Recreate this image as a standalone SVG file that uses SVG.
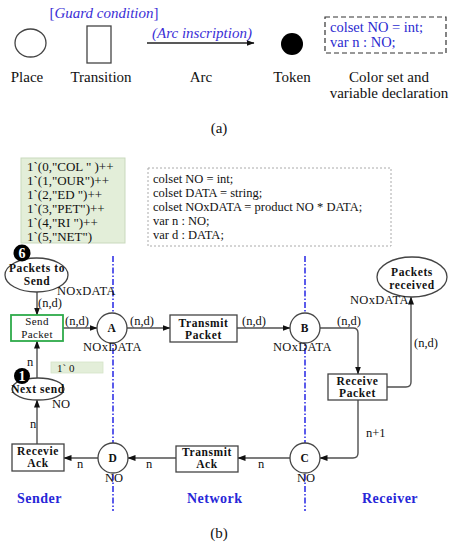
<svg xmlns="http://www.w3.org/2000/svg" width="456" height="550" viewBox="0 0 456 550">
<style>
  text { font-family: "Liberation Serif", "Times New Roman", serif; fill: #111; }
  .lbl { font-size: 15px; text-anchor: middle; }
  .blue { fill: #3b2fd6; }
  .it { font-style: italic; }
  .code { font-size: 14.5px; fill: #2a2ad0; }
  .decl { font-size: 12.5px; }
  .init { font-size: 13px; }
  .node { font-size: 11.5px; font-weight: bold; text-anchor: middle; letter-spacing: 0.6px; }
  .ins { font-size: 12.5px; }
  .cs { font-size: 12.5px; letter-spacing: 0.3px; }
  .region { font-size: 14px; font-weight: bold; fill: #2727d8; letter-spacing: 0.5px; }
  .shape { fill: #fff; stroke: #444; stroke-width: 1.3; }
  .conn { fill: none; stroke: #505050; stroke-width: 1.4; marker-end: url(#arr); }
  .sep { stroke: #3333e6; stroke-width: 1.6; stroke-dasharray: 6 2 1.5 2; fill: none; }
  .badge { fill: #000; }
  .badgetxt { fill: #fff; font-size: 14px; font-weight: bold; text-anchor: middle; }
</style>
<defs>
  <marker id="arr" markerWidth="8" markerHeight="6" refX="7.5" refY="3" orient="auto" markerUnits="userSpaceOnUse">
    <path d="M0,0 L8,3 L0,6 Z" fill="#111"/>
  </marker>
</defs>

<!-- Part (a): legend -->
<g id="legend-place">
  <ellipse cx="30.5" cy="43" rx="15.5" ry="14" class="shape"/>
  <text x="27" y="82" class="lbl">Place</text>
</g>
<g id="legend-transition">
  <text x="104" y="18" font-size="15px" text-anchor="middle" class="blue">[<tspan class="it">Guard condition</tspan>]</text>
  <rect x="87" y="26" width="24" height="37" class="shape"/>
  <text x="101" y="82" class="lbl">Transition</text>
</g>
<g id="legend-arc">
  <text x="202" y="38" font-size="15px" text-anchor="middle" class="blue it">(Arc inscription)</text>
  <path d="M147,43 H254" fill="none" stroke="#222" stroke-width="1.3" marker-end="url(#arr)"/>
  <text x="201" y="82" class="lbl">Arc</text>
</g>
<g id="legend-token">
  <circle cx="292" cy="44" r="11" fill="#000"/>
  <text x="292" y="82" class="lbl">Token</text>
</g>
<g id="legend-colorset">
  <rect x="325" y="17" width="121" height="36" fill="none" stroke="#333" stroke-width="1.2" stroke-dasharray="5 3"/>
  <text x="330" y="32" class="code">colset NO = int;</text>
  <text x="330" y="47" class="code">var n : NO;</text>
  <text x="389" y="82" class="lbl">Color set and</text>
  <text x="389" y="98" class="lbl">variable declaration</text>
</g>
<text x="219" y="133" class="lbl">(a)</text>

<!-- Part (b) -->
<g id="initial-marking">
  <rect x="21" y="158" width="104" height="85" fill="#e3eed9" stroke="#c9d9bd" stroke-width="1"/>
  <text x="27" y="171" class="init">1`(0,"COL " )++</text>
  <text x="27" y="185" class="init">1`(1,"OUR")++</text>
  <text x="27" y="199" class="init">1`(2,"ED ")++</text>
  <text x="27" y="213" class="init">1`(3,"PET")++</text>
  <text x="27" y="227" class="init">1`(4,"RI ")++</text>
  <text x="27" y="241" class="init">1`(5,"NET")</text>
</g>
<g id="declarations">
  <rect x="148" y="168" width="243" height="78" fill="#fff" stroke="#aaa" stroke-width="1" stroke-dasharray="2 2"/>
  <text x="153" y="183" class="decl">colset NO = int;</text>
  <text x="153" y="197" class="decl">colset DATA = string;</text>
  <text x="153" y="211" class="decl">colset NOxDATA = product NO * DATA;</text>
  <text x="153" y="225" class="decl">var n : NO;</text>
  <text x="153" y="239" class="decl">var d : DATA;</text>
</g>

<g id="separators">
  <line x1="113" y1="256" x2="113" y2="511" class="sep"/>
  <line x1="305" y1="256" x2="305" y2="511" class="sep"/>
</g>

<g id="connectors">
  <path d="M37,292 V315" class="conn"/>
  <path d="M63,328 H97" class="conn"/>
  <path d="M127,328 H170" class="conn"/>
  <path d="M237,328 H290" class="conn"/>
  <path d="M320,328 H353 Q358,328 358,333 V374" class="conn"/>
  <path d="M387,387 H406 Q411,387 411,382 V297" class="conn"/>
  <path d="M358,400 V453 Q358,458 353,458 H320" class="conn"/>
  <path d="M290,458 H238" class="conn"/>
  <path d="M176,458 H128" class="conn"/>
  <path d="M98,458 H64" class="conn"/>
  <path d="M37,444 V400" class="conn"/>
  <path d="M37,378 V341" class="conn"/>
  <text x="38" y="307" class="ins">(n,d)</text>
  <text x="65" y="325" class="ins">(n,d)</text>
  <text x="130" y="325" class="ins">(n,d)</text>
  <text x="242" y="325" class="ins">(n,d)</text>
  <text x="337" y="325" class="ins">(n,d)</text>
  <text x="414" y="347" class="ins">(n,d)</text>
  <text x="366" y="437" class="ins">n+1</text>
  <text x="258" y="468" class="ins">n</text>
  <text x="146" y="468" class="ins">n</text>
  <text x="77" y="468" class="ins">n</text>
  <text x="30" y="428" class="ins">n</text>
  <text x="27" y="366" class="ins">n</text>
</g>

<g id="packets-to-send">
  <ellipse cx="36.5" cy="275" rx="31.5" ry="17" class="shape"/>
  <text x="37" y="272" class="node">Packets to</text>
  <text x="37" y="285" class="node">Send</text>
  <circle cx="22" cy="253" r="8.5" class="badge"/>
  <text x="22" y="258" class="badgetxt">6</text>
  <text x="57" y="295" class="cs">NOxDATA</text>
</g>
<g id="send-packet">
  <rect x="11" y="315" width="52" height="26" fill="#fff" stroke="#2eaa4a" stroke-width="1.8"/>
  <text x="37" y="325" font-size="11px" text-anchor="middle" letter-spacing="0.4">Send</text>
  <text x="37" y="338" font-size="11px" text-anchor="middle" letter-spacing="0.4">Packet</text>
</g>
<g id="place-A">
  <circle cx="112" cy="328" r="15" class="shape"/>
  <text x="112" y="332" class="node">A</text>
  <text x="83" y="351" class="cs">NOxDATA</text>
</g>
<g id="transmit-packet">
  <rect x="170" y="315" width="67" height="27" class="shape"/>
  <text x="203.5" y="327" class="node">Transmit</text>
  <text x="203.5" y="339" class="node">Packet</text>
</g>
<g id="place-B">
  <circle cx="305" cy="328" r="15" class="shape"/>
  <text x="305" y="332" class="node">B</text>
  <text x="273" y="351" class="cs">NOxDATA</text>
</g>
<g id="receive-packet">
  <rect x="328" y="374" width="59" height="26" class="shape"/>
  <text x="357.5" y="385" class="node">Receive</text>
  <text x="357.5" y="397" class="node">Packet</text>
</g>
<g id="packets-received">
  <ellipse cx="412" cy="277" rx="35" ry="20" class="shape"/>
  <text x="412" y="276" class="node">Packets</text>
  <text x="412" y="289" class="node">received</text>
  <text x="350" y="304" class="cs">NOxDATA</text>
</g>
<g id="place-C">
  <circle cx="305" cy="458" r="15" class="shape"/>
  <text x="305" y="462" class="node">C</text>
  <text x="297" y="482" class="ins">NO</text>
</g>
<g id="transmit-ack">
  <rect x="176" y="446" width="62" height="26" class="shape"/>
  <text x="207" y="456" class="node">Transmit</text>
  <text x="207" y="468" class="node">Ack</text>
</g>
<g id="place-D">
  <circle cx="113" cy="458" r="15" class="shape"/>
  <text x="113" y="462" class="node">D</text>
  <text x="105" y="482" class="ins">NO</text>
</g>
<g id="receive-ack">
  <rect x="12" y="444" width="52" height="27" class="shape"/>
  <text x="38" y="455" class="node">Recevie</text>
  <text x="38" y="467" class="node">Ack</text>
</g>
<g id="next-send">
  <ellipse cx="38" cy="389" rx="26" ry="11" class="shape"/>
  <text x="38" y="393" class="node" letter-spacing="0">Next send</text>
  <circle cx="22" cy="376" r="8" class="badge"/>
  <text x="22" y="381" class="badgetxt">1</text>
  <text x="52" y="408" class="ins">NO</text>
  <rect x="51" y="362" width="52" height="11" fill="#e3eed9" stroke="#d5e3c8" stroke-width="0.8"/>
  <text x="57" y="371.5" font-size="11px">1` 0</text>
</g>

<g id="regions">
  <text x="17" y="503" class="region">Sender</text>
  <text x="187" y="503" class="region">Network</text>
  <text x="362" y="503" class="region">Receiver</text>
</g>
<text x="219" y="538" class="lbl">(b)</text>
</svg>
